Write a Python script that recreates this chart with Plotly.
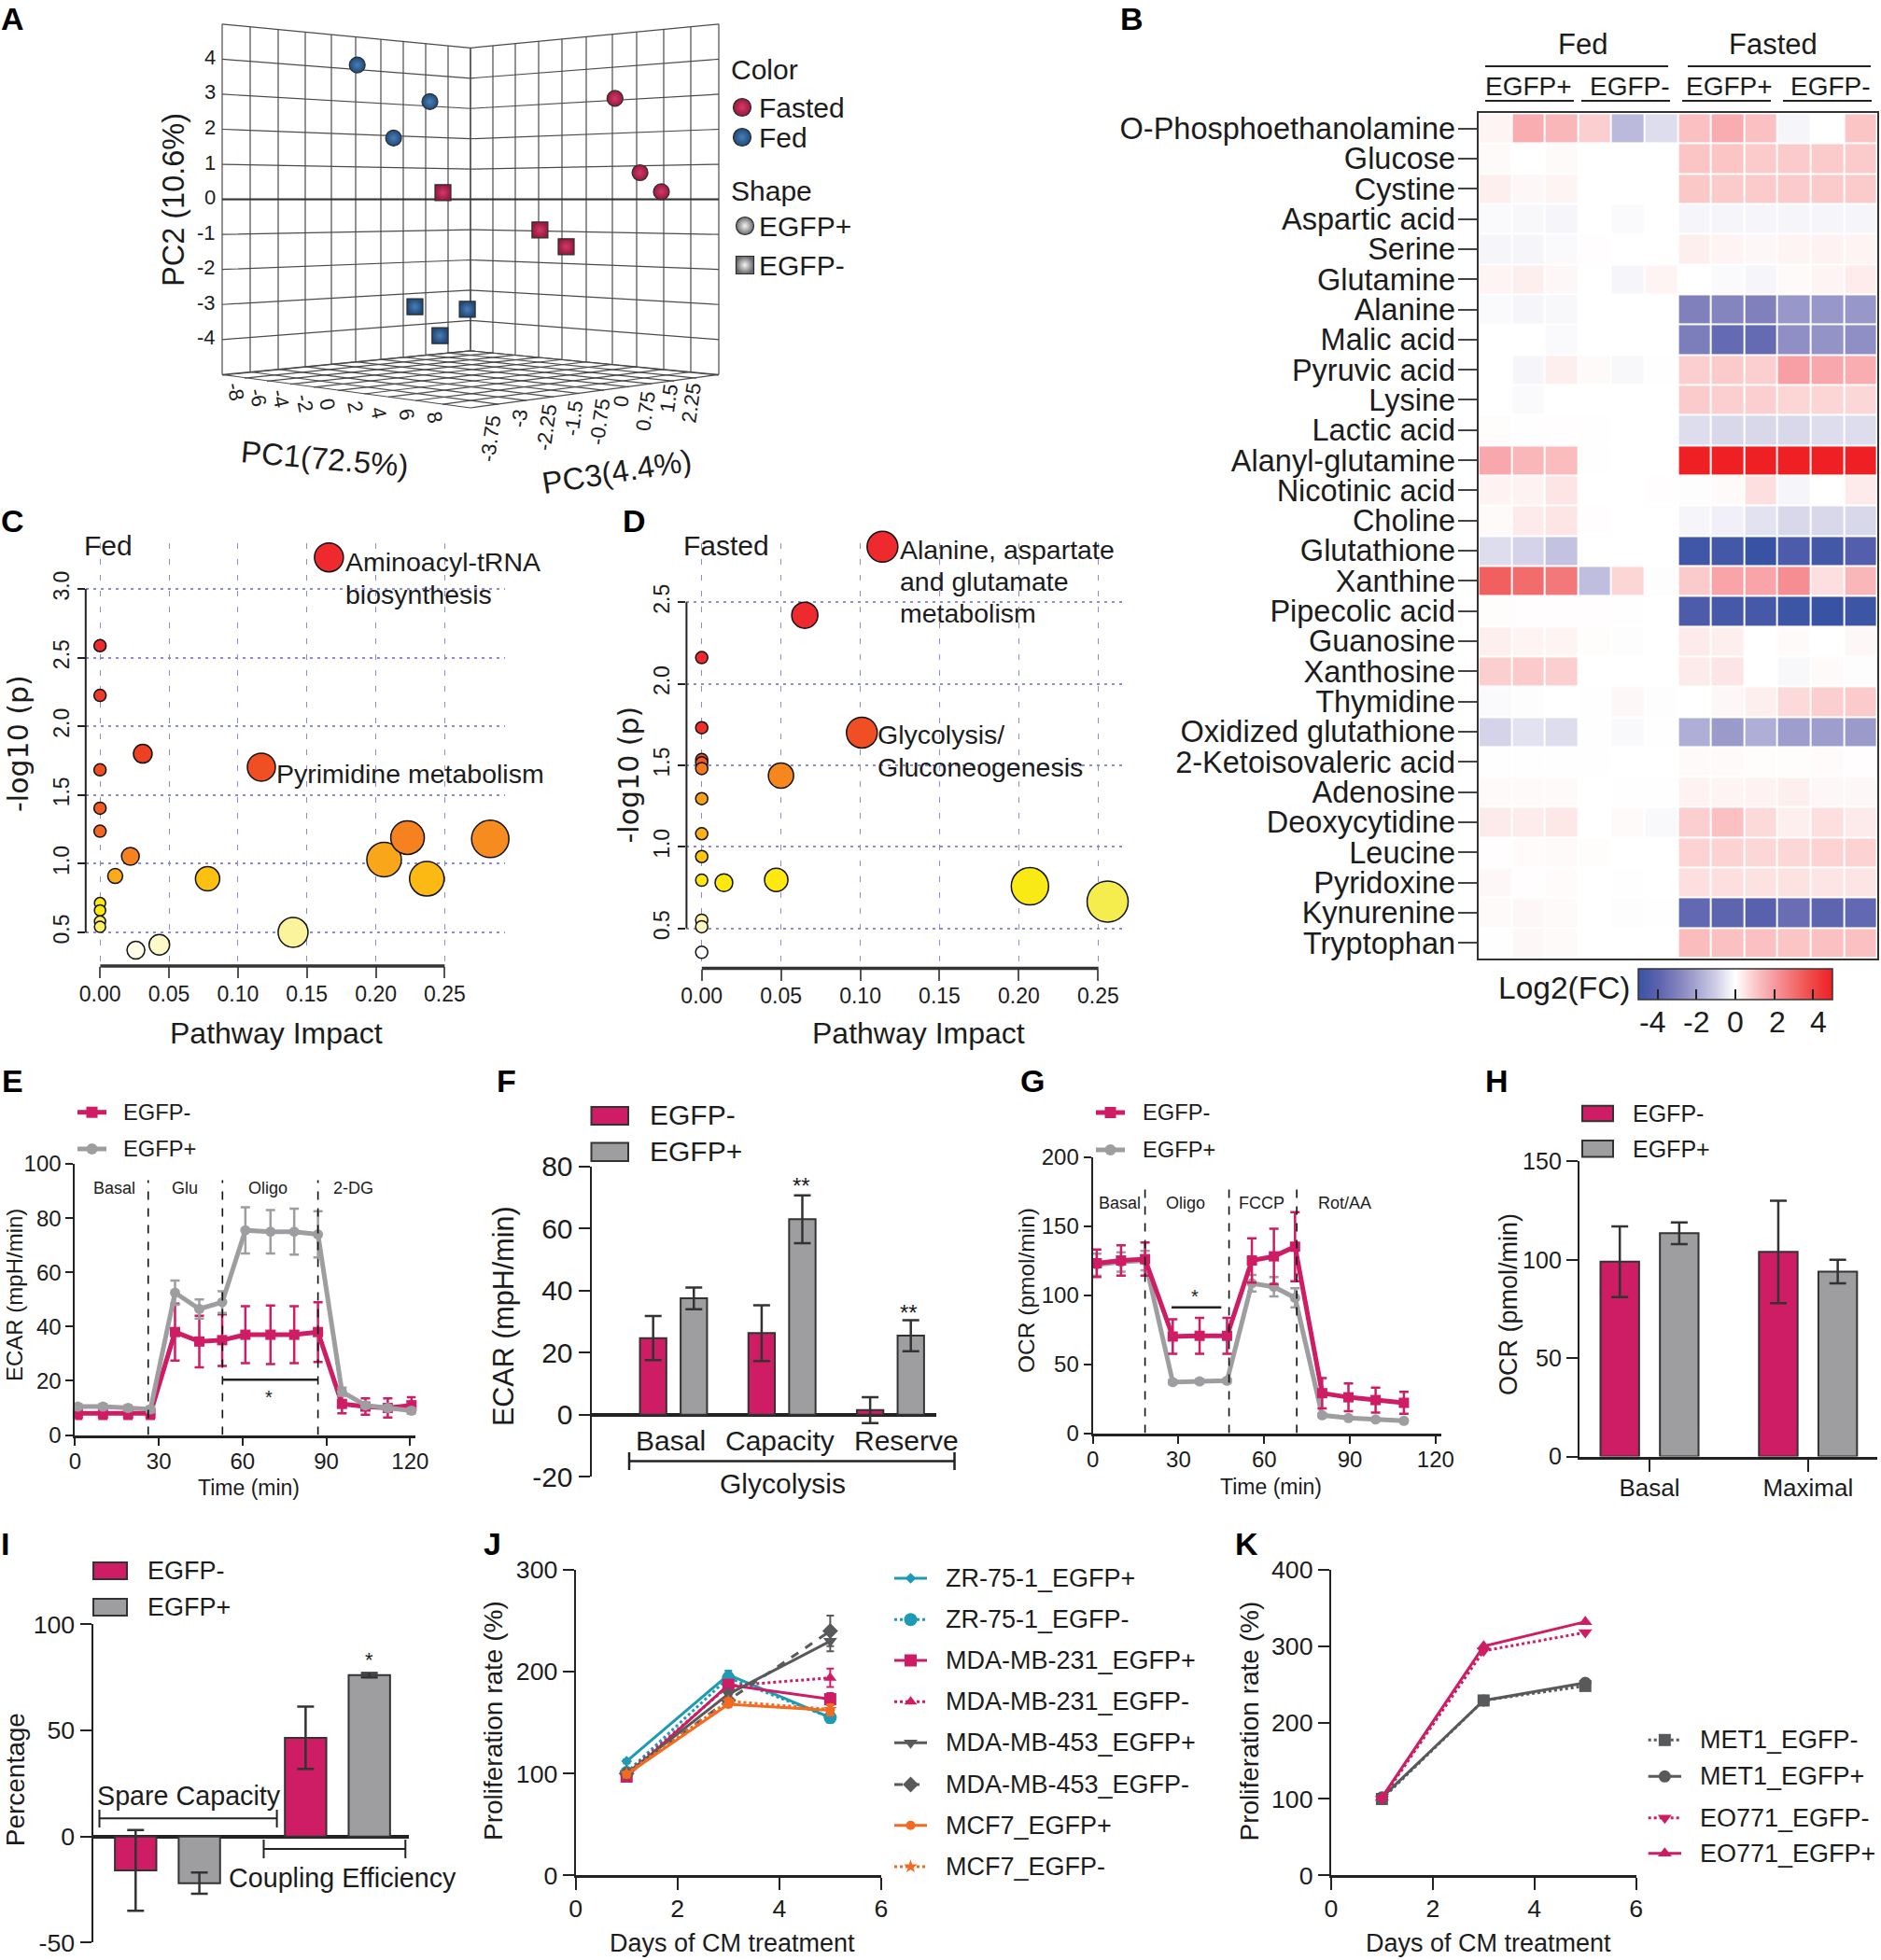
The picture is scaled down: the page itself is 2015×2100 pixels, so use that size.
import plotly.graph_objects as go

W, H = 2015, 2100
FONT = "Liberation Sans, Arial, sans-serif"
INK = "#1c1c1c"
PINK = "#ce1d64"
GRAY = "#9e9ea1"
TEAL = "#1f9ab5"
DGRAY = "#58595b"
ORANGE = "#f26b21"

# ---------- Panel A (projected 3D PCA plot, positions read on the page)
pc2_levels = [-5, -4, -3, -2, -1, 0, 1, 2, 3, 4, 5]
wall_left = [238, 268, 298, 327, 355, 381, 408, 432, 456, 480, 504]
wall_right = [504, 528, 552, 577, 602, 628, 656, 682, 711, 740, 770]
fed_pos_x, fed_pos_y = [382.7, 460.5, 421.6], [69.6, 108.9, 147.9]
fasted_pos_x, fasted_pos_y = [658.8, 685.6, 708.5], [105.4, 185.0, 205.4]
fasted_neg_x, fasted_neg_y = [474.5, 578.4, 606.5], [206.4, 246.4, 264.3]
fed_neg_x, fed_neg_y = [444.5, 500.6, 471.3], [328.6, 331.4, 359.6]
pc2_ticks = ["4", "3", "2", "1", "0", "-1", "-2", "-3", "-4"]
pc1_ticks = ["-8", "-6", "-4", "-2", "0", "2", "4", "6", "8"]
pc1_tick_x = [252, 277, 301, 327, 351, 380, 406, 435, 466]
pc1_tick_y = [420, 426, 427, 432, 433, 436, 442, 444, 447]
pc3_ticks = ["-3.75", "-3", "-2.25", "-1.5", "-0.75", "0", "0.75", "1.5", "2.25"]
pc3_tick_x = [526, 556, 585, 614, 642, 666, 692, 716, 740]
pc3_tick_y = [470, 448, 458, 448, 452, 430, 441, 427, 432]

# ---------- Panel B
metabolites = ["O-Phosphoethanolamine", "Glucose", "Cystine", "Aspartic acid", "Serine", "Glutamine",
               "Alanine", "Malic acid", "Pyruvic acid", "Lysine", "Lactic acid", "Alanyl-glutamine",
               "Nicotinic acid", "Choline", "Glutathione", "Xanthine", "Pipecolic acid", "Guanosine",
               "Xanthosine", "Thymidine", "Oxidized glutathione", "2-Ketoisovaleric acid", "Adenosine",
               "Deoxycytidine", "Leucine", "Pyridoxine", "Kynurenine", "Tryptophan"]
samples = ["Fed+1", "Fed+2", "Fed+3", "Fed-1", "Fed-2", "Fed-3",
           "Fasted+1", "Fasted+2", "Fasted+3", "Fasted-1", "Fasted-2", "Fasted-3"]
log2fc = [
    [.2, 1.6, 1.4, .9, -1.5, -.7, 1.2, 1.6, 1.2, -.2, 0, 1.1],
    [.1, 0, .1, 0, 0, 0, 1.1, 1.1, 1.0, 1.0, 1.0, 1.0],
    [.3, .15, .2, 0, 0, 0, 1.05, 1.0, 1.0, 1.0, 1.0, 1.0],
    [-.1, -.15, -.2, 0, -.1, 0, -.2, -.2, -.2, -.2, -.2, -.2],
    [-.2, -.2, -.1, .03, 0, 0, .3, .2, .15, .2, .25, .2],
    [.2, .3, .15, 0, -.2, .2, 0, -.1, -.2, .1, .2, .35],
    [-.1, -.2, -.15, 0, 0, 0, -3.0, -2.9, -3, -2.4, -2.4, -2.4],
    [0, 0, -.1, 0, 0, 0, -3.1, -3.7, -3.7, -2.6, -2.5, -2.6],
    [0, -.2, .3, .1, -.15, .02, .9, 1.0, .9, 1.9, 1.7, 1.6],
    [0, -.1, 0, 0, 0, 0, 1.0, .9, .9, .8, .8, .75],
    [.05, .02, .03, .02, 0, 0, -.7, -.8, -.8, -.8, -.7, -.7],
    [1.7, 1.4, 1.3, .02, 0, 0, 5, 5, 5, 5, 5, 5],
    [.25, .25, .5, 0, 0, .03, -.05, .1, .6, -.2, 0, .4],
    [.1, .4, .5, .03, 0, 0, -.2, -.3, -.6, -.8, -.8, -.8],
    [-.7, -.9, -1.3, 0, 0, 0, -4.8, -4.7, -5, -4.4, -4.7, -4.2],
    [3.4, 3.1, 2.8, -1.4, .8, -.05, 1.0, 1.8, 1.8, 2.3, .6, 1.4],
    [.05, .03, .03, .03, .02, 0, -4.4, -4.6, -4.6, -4.9, -5, -4.9],
    [.3, .2, .2, .05, -.05, 0, .4, .3, 0, .1, 0, .15],
    [.9, 1.0, .9, 0, 0, 0, .4, .5, 0, -.15, .1, -.05],
    [-.1, -.05, 0, -.03, .15, -.05, 0, .15, .3, .7, .9, 1.0],
    [-.9, -.6, -.7, .02, -.12, .02, -1.8, -2.3, -1.8, -2.2, -2.2, -2.3],
    [.02, .02, .02, .02, 0, 0, .1, .1, .05, .05, .08, .03],
    [.1, .1, .1, 0, .02, -.03, .25, .2, .25, .3, .15, .15],
    [.4, .35, .45, 0, .1, -.12, .9, 1.2, .7, .3, .6, .4],
    [.03, .07, .1, .05, 0, 0, .85, .85, .75, .75, .85, .85],
    [.15, .03, .08, 0, -.02, 0, .6, .6, .55, .55, .5, .5],
    [.1, .15, .1, 0, -.05, .01, -3.8, -3.9, -4.1, -3.6, -3.9, -3.8],
    [.02, .15, .1, 0, -.01, 0, 1.3, 1.2, 1.2, 1.1, 1.2, 1.2],
]
heat_scale = [[0, "#3953a4"], [.1, "#5a62ae"], [.2, "#8080bc"], [.3, "#a6a6d2"], [.4, "#d0cee6"], [.5, "#ffffff"],
              [.6, "#fbcaca"], [.7, "#f79aa0"], [.8, "#f27070"], [.9, "#f04545"], [1, "#ee2024"]]
cbar_ticks = ["-4", "-2", "0", "2", "4"]

# ---------- Panels C, D
c_x = [.166, 0, 0, 0, 0, 0, .031, .117, .022, .011, .078, .14, .043, .026, 0, 0, 0, 0, .206, .223, .237, .283]
c_y = [3.23, 2.587, 2.225, 1.683, 1.404, 1.236, 1.80, 1.703, 1.053, .91, .89, .50, .41, .37, .713, .66, .58, .54, 1.03, 1.19, .89, 1.18]
c_d = [31, 13, 13, 13, 13, 13, 20, 30, 19, 16, 26, 32, 22, 19, 12, 12, 12, 12, 37, 36, 37, 40]
c_col = ["#ee2a2e", "#ee2a2e", "#ee3a2a", "#f04e23", "#f15a24", "#f26522", "#ee4023", "#f04e23", "#f5821f", "#fbaa19",
         "#fcc010", "#fbf49c", "#fdf9c8", "#fffde8", "#fde910", "#fde910", "#fbf06a", "#fbf06a", "#faa61a", "#f5821f", "#fdb913", "#f68b1f"]
d_x = [.114, .065, 0, 0, 0, 0, 0, 0, 0, 0, 0, 0, 0, 0, .101, .05, .014, .047, .207, .256]
d_y = [2.84, 2.42, 2.16, 1.73, 1.535, 1.515, 1.48, 1.295, 1.08, .94, .795, .55, .51, .353, 1.70, 1.437, .78, .797, .758, .664]
d_d = [33, 28, 13, 13, 13, 13, 13, 13, 13, 13, 13, 13, 13, 13, 33, 27, 19, 25, 40, 44]
d_col = ["#ee2a2e", "#ee2a2e", "#ee2a2e", "#ee2f2a", "#f04e23", "#f15a24", "#f47b20", "#f9a11b", "#fbb416", "#fdc70f",
         "#fde910", "#fdf5a0", "#fdf8c0", "#ffffff", "#f04e23", "#f6871f", "#fde910", "#fde910", "#f9e914", "#f5ec4e"]

# ---------- Panel E
e_t = [1, 10, 19, 27, 35.8, 44.5, 52.7, 61, 70, 78.5, 87, 95.6, 104, 112, 120.5]
e_neg = [8, 8, 8, 8, 38, 34.5, 35, 37, 37, 37, 38, 11.5, 10.5, 10, 11]
e_neg_err = [2, 2, 2, 2, 10.5, 9.5, 9.5, 10.5, 10.8, 10.5, 11, 3.5, 3, 3.5, 3]
e_pos = [10.5, 10.5, 10, 9.5, 52.5, 46.5, 49, 75.5, 75, 75, 74, 16, 11, 10, 9]
e_pos_err = [1, 1, 1, 1, 4.5, 3.5, 4, 8.5, 8, 8.5, 8.5, 1.5, 1, 1, 1]
e_steps = [26.2, 52.8, 87]

# ---------- Panel F
f_cat = ["Basal", "Capacity", "Reserve"]
f_neg, f_neg_err = [24.7, 26.3, 1.5], [7.1, 9, 4.2]
f_pos, f_pos_err = [37.5, 63, 25.5], [3.5, 7.7, 5]

# ---------- Panel G
g_t = [1.4, 9.9, 18.3, 28, 37.4, 47, 55.7, 63.4, 70.8, 80.3, 89.5, 99, 108.9]
g_neg = [123, 125, 126, 70, 70.5, 70.5, 125, 128, 135, 29, 26, 24, 22]
g_neg_err = [10, 11, 12, 12.5, 13, 13, 16, 20, 25, 11, 10, 9, 8]
g_pos = [122, 124, 125, 37, 37.5, 38, 108.5, 106, 98, 13, 11, 10, 9]
g_pos_err = [8, 7, 7, 1.5, 1.5, 1.5, 6, 7, 7, 1.5, 1, 1, 1]
g_steps = [18.3, 47.7, 71.4]

# ---------- Panel H
h_cat = ["Basal", "Maximal"]
h_neg, h_neg_err = [99, 104], [18, 26]
h_pos, h_pos_err = [113.5, 94], [5.5, 6]

# ---------- Panel I
i_cat = ["Spare Capacity", "Coupling Efficiency"]
i_neg, i_neg_err = [-16, 46.5], [19, 14.7]
i_pos, i_pos_err = [-22, 76], [5, 1]

# ---------- Panels J, K
days = [1, 3, 5]
j_names = ["ZR-75-1_EGFP+", "ZR-75-1_EGFP-", "MDA-MB-231_EGFP+", "MDA-MB-231_EGFP-",
           "MDA-MB-453_EGFP+", "MDA-MB-453_EGFP-", "MCF7_EGFP+", "MCF7_EGFP-"]
j_vals = [[112, 197, 155], [101, 194, 155], [97, 187, 173], [100, 186, 194],
          [100, 178, 230], [100, 172, 240], [99, 168, 162], [100, 171, 163]]
j_errs = [[2, 4, 3], [3, 5, 5], [3, 5, 6], [3, 4, 9], [3, 5, 10], [3, 5, 15], [2, 3, 5], [2, 3, 5]]
j_cols = [TEAL, TEAL, PINK, PINK, DGRAY, DGRAY, ORANGE, ORANGE]
j_dash = ["solid", "dot", "solid", "dot", "solid", "dash", "solid", "dot"]
j_sym = ["diamond", "circle", "square", "triangle-up", "triangle-down", "diamond", "circle", "star"]
j_size = [9, 14, 13, 12, 13, 13, 10, 11]
k_names = ["MET1_EGFP-", "MET1_EGFP+", "EO771_EGFP-", "EO771_EGFP+"]
k_vals = [[100, 229, 248], [102, 229, 252], [100, 294, 318], [102, 300, 332]]
k_cols = [DGRAY, DGRAY, PINK, PINK]
k_dash = ["dot", "solid", "dot", "solid"]
k_sym = ["square", "circle", "triangle-down", "triangle-up"]

fig = go.Figure()
annotations, shapes, axes = [], [], {}


def txt(px, py, text, size, anchor="center", angle=0, bold=False, color=INK, family=FONT):
    annotations.append(dict(x=px / W, y=1 - py / H, xref="paper", yref="paper", text=f"<b>{text}</b>" if bold else text,
                            showarrow=False, xanchor=anchor, yanchor="middle", textangle=angle,
                            font=dict(size=size, color=color, family=family), borderpad=0, borderwidth=0))


def line(x0, y0, x1, y1, color="#222", width=2, dash="solid"):
    shapes.append(dict(type="line", xref="paper", yref="paper", x0=x0 / W, x1=x1 / W, y0=1 - y0 / H, y1=1 - y1 / H,
                       line=dict(color=color, width=width, dash=dash)))


def rect(x0, y0, x1, y1, fill, color="#333", width=2):
    shapes.append(dict(type="rect", xref="paper", yref="paper", x0=x0 / W, x1=x1 / W, y0=1 - y0 / H, y1=1 - y1 / H,
                       fillcolor=fill, line=dict(color=color, width=width)))


def panel(i, x0, x1, ytop, ybot, xr, yr, xt=None, yt=None, tick=24, xline=True, yline=True, xw=3, yw=2, **extra):
    xa = dict(domain=[x0 / W, x1 / W], range=xr, anchor=f"y{i}", showgrid=False, zeroline=False, showline=xline,
              linecolor="#222", linewidth=xw, ticks="outside", ticklen=8, tickwidth=2, tickcolor="#222",
              tickfont=dict(size=tick, family=FONT, color=INK), automargin=False)
    ya = dict(domain=[1 - ybot / H, 1 - ytop / H], range=yr, anchor=f"x{i}", showgrid=False, zeroline=False, showline=yline,
              linecolor="#222", linewidth=yw, ticks="outside", ticklen=8, tickwidth=2, tickcolor="#222",
              tickfont=dict(size=tick, family=FONT, color=INK), automargin=False)
    if xt is not None:
        xa.update(tickmode="array", tickvals=xt, ticktext=[str(v) for v in xt])
    if yt is not None:
        ya.update(tickmode="array", tickvals=yt, ticktext=[str(v) for v in yt])
    xa.update(extra.get("x", {}))
    ya.update(extra.get("y", {}))
    axes[f"xaxis{i}"] = xa
    axes[f"yaxis{i}"] = ya


# ---- page axis (1): panel A and legend samples
panel(1, 0, W, 0, H, [0, W], [H, 0], xline=False, yline=False, x=dict(visible=False), y=dict(visible=False))


def wall_y(x, v):
    frac = abs(x - 504) / 266
    return 213.6 - v * (32.45 + (37.55 - 32.45) * frac)


gx, gy = [], []
for v in pc2_levels:
    for xv in (238, 504, 770):
        gx.append(xv)
        gy.append(wall_y(xv, v))
    gx.append(None)
    gy.append(None)
for xv in wall_left + wall_right:
    gx += [xv, xv, None]
    gy += [wall_y(xv, 5), wall_y(xv, -5), None]
for xv in wall_left:
    t = (xv - 238) / 266
    gx += [xv, 504 + t * 266, None]
    gy += [wall_y(xv, -5), 437 - t * 35, None]
for xv in wall_right:
    t = (770 - xv) / 266
    gx += [xv, 504 - t * 266, None]
    gy += [wall_y(xv, -5), 437 - t * 35, None]
fig.add_trace(go.Scatter(x=gx, y=gy, xaxis="x1", yaxis="y1", mode="lines", line=dict(color="#4a4a4a", width=1.2),
                         hoverinfo="skip", showlegend=False))
fig.add_trace(go.Scatter(x=[238, 504, 770], y=[213.6, 213.6, 213.6], xaxis="x1", yaxis="y1", mode="lines",
                         line=dict(color="#333", width=2), hoverinfo="skip", showlegend=False))


def a_pts(xs, ys, color, centre, sym, size, name):
    fig.add_trace(go.Scatter(x=xs, y=ys, xaxis="x1", yaxis="y1", mode="markers", name=name, showlegend=False,
                             marker=dict(symbol=sym, size=size, color=color, line=dict(color="#2a2a2a", width=1.2),
                                         gradient=dict(type="radial", color=centre))))


RED_A, RED_C = "#98193f", "#d23a68"
BLUE_A, BLUE_C = "#1f4a7a", "#4a7fb5"
a_pts(fed_pos_x, fed_pos_y, BLUE_A, BLUE_C, "circle", 17, "Fed EGFP+")
a_pts(fasted_pos_x, fasted_pos_y, RED_A, RED_C, "circle", 17, "Fasted EGFP+")
a_pts(fasted_neg_x, fasted_neg_y, RED_A, RED_C, "square", 17, "Fasted EGFP-")
a_pts(fed_neg_x, fed_neg_y, BLUE_A, BLUE_C, "square", 17, "Fed EGFP-")
a_pts([795], [115], RED_A, RED_C, "circle", 19, "Fasted")
a_pts([795], [147], BLUE_A, BLUE_C, "circle", 19, "Fed")
a_pts([798], [242], "#6a6a6a", "#f4f4f4", "circle", 19, "EGFP+")
a_pts([798], [284], "#6a6a6a", "#f4f4f4", "square", 19, "EGFP-")
for lab, v in zip(pc2_ticks, [4, 3, 2, 1, 0, -1, -2, -3, -4]):
    txt(231, wall_y(238, v) - 2, lab, 22, anchor="right")
for lab, x, y in zip(pc1_ticks, pc1_tick_x, pc1_tick_y):
    txt(x, y, lab, 22, angle=78)
for lab, x, y in zip(pc3_ticks, pc3_tick_x, pc3_tick_y):
    txt(x, y, lab, 22, angle=-82)
txt(186, 214, "PC2 (10.6%)", 32.5, angle=-90)
txt(348, 491, "PC1(72.5%)", 33, angle=5)
txt(660, 505, "PC3(4.4%)", 33, angle=-9)
txt(783, 75, "Color", 30, anchor="left")
txt(813, 115, "Fasted", 30, anchor="left")
txt(813, 147, "Fed", 30, anchor="left")
txt(783, 204, "Shape", 30, anchor="left")
txt(813, 242, "EGFP+", 30, anchor="left")
txt(813, 284, "EGFP-", 30, anchor="left")

# ---- B heatmap
panel(2, 1583.6, 2010.7, 121.4, 1026.5, [-.5, 11.5], [27.5, -.5], xline=True, yline=True, tick=32.5, xw=2, yw=2,
      x=dict(showticklabels=False, ticks="", mirror=True, linecolor="#333"),
      y=dict(mirror=True, linecolor="#333", ticklen=20, tickcolor="#444", ticklabelstandoff=-4, tickmode="array",
             tickvals=list(range(28)), ticktext=metabolites))
fig.add_trace(go.Heatmap(z=log2fc, x=list(range(12)), y=list(range(28)), xaxis="x2", yaxis="y2", zmin=-5, zmax=5,
                         colorscale=heat_scale, xgap=2, ygap=2,
                         customdata=[[s for s in samples] for _ in metabolites],
                         colorbar=dict(orientation="h", x=1755 / W, xanchor="left", y=1 - 1038 / H, yanchor="top",
                                       lenmode="pixels", len=208, thicknessmode="pixels", thickness=33, xpad=0, ypad=0,
                                       tickmode="array", tickvals=[-4, -2, 0, 2, 4], showticklabels=False,
                                       ticks="inside", ticklen=11, tickcolor="#222", tickwidth=2,
                                       outlinecolor="#333", outlinewidth=1.5)))
for cb_x in [1779, 1820.5, 1861.6, 1903, 1945]:
    line(cb_x, 1038, cb_x, 1049, color="#222", width=2)
for cb_x, lab in zip([1770, 1817, 1859, 1904, 1948], cbar_ticks):
    txt(cb_x, 1095, lab, 32)
txt(1676, 1058, "Log2(FC)", 33.5)
txt(1695, 47.5, "Fed", 31)
txt(1899, 47.5, "Fasted", 31)
line(1591, 71, 1787, 71)
line(1808, 71, 2004, 71)
for cx, lab, l0, l1 in [(1637, "EGFP+", 1591, 1686), (1745.5, "EGFP-", 1694, 1789), (1852, "EGFP+", 1802, 1897), (1960.6, "EGFP-", 1910, 2005)]:
    txt(cx, 92, lab, 28)
    line(l0, 108, l1, 108)


# ---- C, D bubble panels
def bubble(i, x0, x1, ytop, ybot, xr, yr, xs, ys, ds, cols, ytv, axisx0, axisx1, axy0, axy1, name):
    grid = "#8a8adb"
    panel(i, x0, x1, ytop, ybot, xr, yr, xline=False, yline=False, tick=23,
          x=dict(tickmode="array", tickvals=[0, .05, .1, .15, .2, .25],
                 ticktext=["0.00", "0.05", "0.10", "0.15", "0.20", "0.25"], showgrid=True, gridcolor=grid, griddash="6px,11px",
                 gridwidth=1.3, ticklen=12, tickcolor="#555", ticklabelstandoff=-3),
          y=dict(tickmode="array", tickvals=ytv, ticktext=[f"{v:.1f}" for v in ytv], tickangle=-90, showgrid=True,
                 gridcolor=grid, griddash="3px,5px", gridwidth=1.5, ticklen=8))
    order = sorted(range(len(xs)), key=lambda k: -ds[k])
    fig.add_trace(go.Scatter(x=[xs[k] for k in order], y=[ys[k] for k in order], xaxis=f"x{i}", yaxis=f"y{i}", mode="markers", name=name,
                             cliponaxis=False, showlegend=False,
                             marker=dict(size=[ds[k] for k in order], color=[cols[k] for k in order], line=dict(color="#111", width=1.5), opacity=1)))
    line(axisx0, ybot, axisx1, ybot, color="#333", width=3.5)
    line(x0, axy0, x0, axy1, color="#222", width=2)


bubble(3, 91.8, 541, 582, 1035, [-.0104, .2937], [.255, 3.333], c_x, c_y, c_d, c_col, [.5, 1, 1.5, 2, 2.5, 3],
       107.4, 476.3, 631, 999.2, "Fed")
bubble(4, 735.4, 1202, 582, 1037.5, [-.0096, .2651], [.2546, 2.8616], d_x, d_y, d_d, d_col, [.5, 1, 1.5, 2, 2.5],
       751.8, 1176.7, 645.2, 994.6, "Fasted")
txt(116, 584, "Fed", 30)
txt(778, 584, "Fasted", 30)
txt(370, 602, "Aminoacyl-tRNA", 28.5, anchor="left")
txt(370, 637, "biosynthesis", 28.5, anchor="left")
txt(296, 829, "Pyrimidine metabolism", 28.5, anchor="left")
txt(964, 589, "Alanine, aspartate", 28.5, anchor="left")
txt(964, 623, "and glutamate", 28.5, anchor="left")
txt(964, 657, "metabolism", 28.5, anchor="left")
txt(940, 787, "Glycolysis/", 28.5, anchor="left")
txt(940, 822, "Gluconeogenesis", 28.5, anchor="left")
txt(296, 1107, "Pathway Impact", 32)
txt(984, 1107, "Pathway Impact", 32)
txt(19, 797, "-log10 (p)", 30, angle=-90, family="DejaVu Sans")
txt(673.5, 830, "-log10 (p)", 30, angle=-90, family="DejaVu Sans")


def series(i, xs, ys, errs, color, sym, name, width=5, size=11):
    fig.add_trace(go.Scatter(x=xs, y=ys, xaxis=f"x{i}", yaxis=f"y{i}", mode="lines+markers", name=name, showlegend=False,
                             cliponaxis=False, line=dict(color=color, width=width),
                             marker=dict(symbol=sym, size=size, color=color),
                             error_y=dict(type="data", array=errs, color=color, thickness=2.5, width=5)))


def sample(x0, x1, y, color, sym, size=12, width=5, dash="solid"):
    fig.add_trace(go.Scatter(x=[x0, (x0 + x1) / 2, x1], y=[y, y, y], xaxis="x1", yaxis="y1", mode="lines",
                             line=dict(color=color, width=width, dash=dash), hoverinfo="skip", showlegend=False))
    fig.add_trace(go.Scatter(x=[(x0 + x1) / 2], y=[y], xaxis="x1", yaxis="y1", mode="markers",
                             marker=dict(symbol=sym, size=size, color=color), hoverinfo="skip", showlegend=False))


def steps(i, xs, top):
    for v in xs:
        shapes.append(dict(type="line", xref=f"x{i}", yref=f"y{i}", x0=v, x1=v, y0=0, y1=top,
                           line=dict(color="#111", width=1.6, dash="dash")))


# ---- E
panel(5, 80.4, 445.3, 1247, 1537.6, [0, 122], [0, 100], [0, 30, 60, 90, 120], [0, 20, 40, 60, 80, 100],
      x=dict(ticklabelstandoff=-3))
series(5, e_t, e_neg, e_neg_err, PINK, "square", "EGFP-")
series(5, e_t, e_pos, e_pos_err, GRAY, "circle", "EGFP+")
steps(5, e_steps, 94)
shapes.append(dict(type="line", xref="x5", yref="y5", x0=52.8, x1=87, y0=20.4, y1=20.4, line=dict(color="#222", width=2.5)))
txt(288, 1497, "*", 20)
for x, lab in [(122.5, "Basal"), (197.5, "Glu"), (286.6, "Oligo"), (378, "2-DG")]:
    txt(x, 1273, lab, 18)
txt(266, 1594, "Time (min)", 23)
txt(15, 1388, "ECAR (mpH/min)", 24, angle=-90)
sample(83, 114, 1191.7, PINK, "square")
sample(83, 114, 1231, GRAY, "circle")
txt(132, 1191.7, "EGFP-", 23.7, anchor="left")
txt(132, 1231, "EGFP+", 23.7, anchor="left")


def bars(i, cats, neg, neg_e, pos, pos_e):
    for vals, errs, col, name in [(neg, neg_e, PINK, "EGFP-"), (pos, pos_e, GRAY, "EGFP+")]:
        fig.add_trace(go.Bar(x=cats, y=vals, xaxis=f"x{i}", yaxis=f"y{i}", name=name, showlegend=False, cliponaxis=False,
                             marker=dict(color=col, line=dict(color="#333", width=2)),
                             error_y=dict(type="data", array=errs, color="#333", thickness=2.5, width=9)))


# ---- F
panel(6, 633.5, 1002.5, 1249.7, 1582.4, [-.757, 2.418], [-20, 80], None, [-20, 0, 20, 40, 60, 80], tick=30,
      x=dict(visible=False, type="category"), y=dict(zeroline=True, zerolinecolor="#222", zerolinewidth=3.5, ticklen=12))
bars(6, f_cat, f_neg, f_neg_err, f_pos, f_pos_err)
for x, lab in zip([718.6, 835.7, 971], f_cat):
    txt(x, 1543, lab, 30)
line(674, 1565.5, 1022.5, 1565.5, width=2.5)
line(674, 1556, 674, 1575, width=2.5)
line(1022.5, 1556, 1022.5, 1575, width=2.5)
txt(838.4, 1589, "Glycolysis", 30)
txt(858, 1270, "**", 24)
txt(973, 1406, "**", 24)
txt(539, 1410, "ECAR (mpH/min)", 30.5, angle=-90)
rect(633.5, 1186, 673, 1205, PINK)
rect(633.5, 1224.5, 673, 1244, GRAY)
txt(696, 1194.7, "EGFP-", 30, anchor="left")
txt(696, 1233.5, "EGFP+", 30, anchor="left")

# ---- G
panel(7, 1170.6, 1544, 1239.5, 1535.6, [0, 122], [0, 200], [0, 30, 60, 90, 120], [0, 50, 100, 150, 200],
      x=dict(ticklabelstandoff=-3))
series(7, g_t, g_pos, g_pos_err, GRAY, "circle", "EGFP+")
series(7, g_t, g_neg, g_neg_err, PINK, "square", "EGFP-")
steps(7, g_steps, 178)
shapes.append(dict(type="line", xref="x7", yref="y7", x0=27.6, x1=45, y0=91, y1=91, line=dict(color="#222", width=2.5)))
txt(1280, 1389, "*", 20)
for x, lab in [(1199.5, "Basal"), (1270.3, "Oligo"), (1351.5, "FCCP"), (1440.8, "Rot/AA")]:
    txt(x, 1289, lab, 18)
txt(1361, 1592.6, "Time (min)", 23)
txt(1099, 1383, "OCR (pmol/min)", 24.5, angle=-90)
sample(1174, 1205, 1192, PINK, "square")
sample(1174, 1205, 1232, GRAY, "circle")
txt(1224, 1192, "EGFP-", 23.7, anchor="left")
txt(1224, 1232, "EGFP+", 23.7, anchor="left")

# ---- H
panel(8, 1691.8, 2011, 1244.4, 1560.5, [-.443, 1.437], [0, 150], None, [0, 50, 100, 150], tick=25,
      x=dict(type="category", ticklen=13, ticklabelstandoff=-5, tickfont=dict(size=26, family=FONT, color=INK)), y=dict(ticklen=12))
bars(8, h_cat, h_neg, h_neg_err, h_pos, h_pos_err)
txt(1616, 1398, "OCR (pmol/min)", 27, angle=-90)
rect(1695, 1184.7, 1728, 1201.3, PINK)
rect(1695, 1222, 1728, 1239.5, GRAY)
txt(1748.5, 1193, "EGFP-", 25, anchor="left")
txt(1748.5, 1230.5, "EGFP+", 25, anchor="left")

# ---- I
panel(9, 99.5, 438, 1740.3, 2081.3, [-.439, 1.42], [-50, 100], None, [-50, 0, 50, 100], tick=26.7,
      x=dict(visible=False, type="category"), y=dict(zeroline=True, zerolinecolor="#222", zerolinewidth=3.5, ticklen=12))
bars(9, i_cat, i_neg, i_neg_err, i_pos, i_pos_err)
line(106.5, 1948.3, 296.6, 1948.3, width=2)
line(106.5, 1939, 106.5, 1958, width=2)
line(296.6, 1939, 296.6, 1958, width=2)
line(282.5, 1981, 434.3, 1981, width=2)
line(282.5, 1971, 282.5, 1991, width=2)
line(434.3, 1971, 434.3, 1991, width=2)
txt(202.8, 1924.3, "Spare Capacity", 28.7)
txt(366.7, 2012.3, "Coupling Efficiency", 28.7)
txt(395, 1778, "*", 22)
txt(16, 1907.3, "Percentage", 28, angle=-90)
rect(100, 1674, 136, 1692, PINK)
rect(100, 1713, 136, 1731, GRAY)
txt(157.5, 1683.3, "EGFP-", 27, anchor="left")
txt(157.5, 1722.3, "EGFP+", 27, anchor="left")

# ---- J
panel(10, 616.7, 943.9, 1682, 2009.3, [0, 6], [0, 300], [0, 2, 4, 6], [0, 100, 200, 300], tick=26.7,
      x=dict(ticklen=13, ticklabelstandoff=-3), y=dict(ticklen=12))
j_leg_y = [1691, 1735.3, 1779, 1823.3, 1867.3, 1912, 1955.7, 2000]
for name, vals, errs, col, dash, sym, size, ly in zip(j_names, j_vals, j_errs, j_cols, j_dash, j_sym, j_size, j_leg_y):
    fig.add_trace(go.Scatter(x=days, y=vals, xaxis="x10", yaxis="y10", mode="lines+markers", name=name, showlegend=False,
                             cliponaxis=False, line=dict(color=col, width=3, dash=dash),
                             marker=dict(symbol=sym, size=size, color=col),
                             error_y=dict(type="data", array=errs, color=col, thickness=2, width=4)))
    sample(958, 993, ly, col, sym, size=size, width=3, dash=dash)
    txt(1013, ly, name, 27, anchor="left")
txt(784.4, 2081.7, "Days of CM treatment", 27)
txt(529, 1844, "Proliferation rate (%)", 28, angle=-90)

# ---- K
panel(11, 1425.9, 1752.7, 1682, 2009.3, [0, 6], [0, 400], [0, 2, 4, 6], [0, 100, 200, 300, 400], tick=26.7,
      x=dict(ticklen=13, ticklabelstandoff=-3), y=dict(ticklen=12))
k_leg_y = [1864.3, 1903.3, 1947.7, 1985.7]
for name, vals, col, dash, sym, ly in zip(k_names, k_vals, k_cols, k_dash, k_sym, k_leg_y):
    fig.add_trace(go.Scatter(x=days, y=vals, xaxis="x11", yaxis="y11", mode="lines+markers", name=name, showlegend=False,
                             cliponaxis=False, line=dict(color=col, width=3, dash=dash),
                             marker=dict(symbol=sym, size=13, color=col)))
    sample(1765.7, 1801, ly, col, sym, size=13, width=3, dash=dash)
    txt(1820.7, ly, name, 27, anchor="left")
txt(1594, 2081.7, "Days of CM treatment", 27)
txt(1338.5, 1844, "Proliferation rate (%)", 28, angle=-90)

# ---- panel letters
for lab, x, y in [("A", 13, 19.5), ("B", 1212, 19.5), ("C", 13, 558), ("D", 679, 558), ("E", 13, 1158), ("F", 542, 1158),
                  ("G", 1106, 1158), ("H", 1603, 1158), ("I", 5, 1654), ("J", 527, 1654), ("K", 1335, 1654)]:
    txt(x, y, lab, 34, bold=True, color="#000")

fig.update_layout(width=W, height=H, margin=dict(l=0, r=0, t=0, b=0, pad=0, autoexpand=False), template="none",
                  paper_bgcolor="white", plot_bgcolor="rgba(0,0,0,0)", font=dict(family=FONT, color=INK),
                  showlegend=False, annotations=annotations, shapes=shapes, barmode="group",
                  hovermode=False, **axes)
fig.update_layout(bargap=0.25, bargroupgap=0.35)
fig.write_html("out.html", config=dict(displayModeBar=False),
               post_script="document.body.style.margin='0';document.documentElement.style.overflow='hidden';")
